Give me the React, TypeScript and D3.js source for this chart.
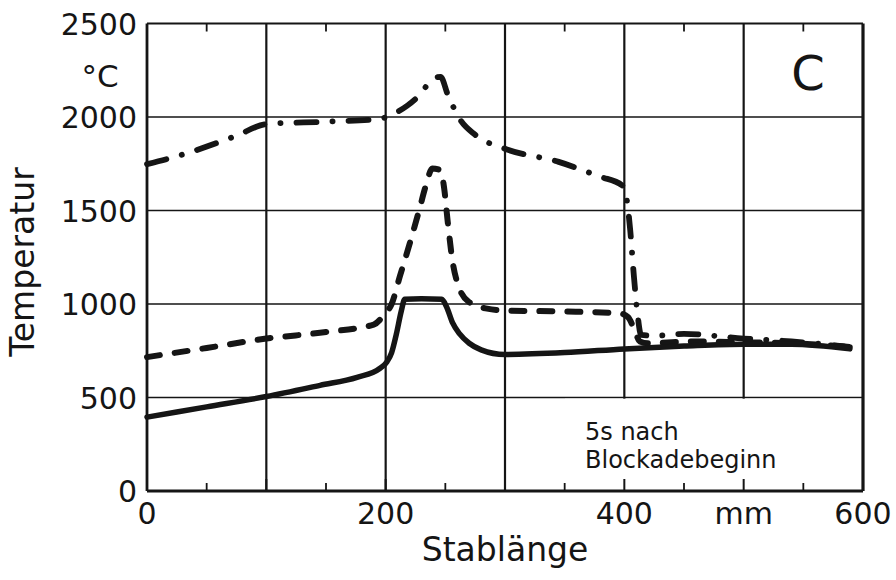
import React from "react";
import * as d3 from "d3";

const xTicks = [0, 100, 200, 300, 400, 500, 600];
const xTickLabels = ["0", "", "200", "", "400", "mm", "600"];
const yTicks = [0, 500, 1000, 1500, 2000, 2500];
const yTickLabels = ["0", "500", "1000", "1500", "2000", "2500"];

const solidX = [0, 50, 100, 145, 176, 195, 201, 205, 209, 213, 216, 230, 247, 251, 256, 262, 270, 280, 300, 350, 400, 450, 500, 540, 589];
const solidT = [395, 450, 505, 565, 608, 655, 690, 740, 840, 960, 1025, 1028, 1025, 985, 900, 840, 790, 755, 730, 740, 760, 775, 785, 785, 760];

const dashX = [0, 50, 100, 150, 190, 199, 205, 212, 220, 228, 234, 239, 246, 249, 252, 256, 262, 270, 285, 300, 350, 396, 403, 408, 413, 420, 460, 500, 540, 589];
const dashT = [716, 765, 815, 850, 890, 945, 1000, 1150, 1320, 1500, 1640, 1725, 1715, 1620, 1440, 1230, 1080, 1010, 975, 965, 960, 950, 930, 870, 800, 790, 800, 795, 790, 770];

const ddX = [0, 25, 75, 100, 150, 195, 206, 218, 228, 239, 246, 252, 257, 262, 275, 300, 345, 380, 398, 402, 405, 408, 411, 414, 425, 450, 500, 540, 589];
const ddT = [1748, 1790, 1900, 1962, 1975, 1990, 2015, 2060, 2115, 2200, 2215, 2120, 2050, 1990, 1905, 1830, 1760, 1680, 1635, 1560, 1390, 1150, 950, 835, 830, 840, 815, 800, 770];

const W = 896;
const H = 580;
const L = 147, R = 863, T = 23.5, B = 491;

export default function App() {
  const x = d3.scaleLinear().domain([0, 600]).range([L, R]);
  const y = d3.scaleLinear().domain([0, 2500]).range([B, T]);
  const line = d3
    .line<[number, number]>()
    .x((d) => x(d[0]))
    .y((d) => y(d[1]))
    .curve(d3.curveMonotoneX);
  const solid = line(solidX.map((v, i) => [v, solidT[i]]) as [number, number][]) || "";
  const dashed = line(dashX.map((v, i) => [v, dashT[i]]) as [number, number][]) || "";
  const dd = line(ddX.map((v, i) => [v, ddT[i]]) as [number, number][]) || "";
  const minor = d3.range(50, 600, 100);
  const ink = "#151515";
  const font = "DejaVu Sans, sans-serif";

  return (
    <div style={{ position: "absolute", left: 0, top: 0 }}>
      <svg width={W} height={H} viewBox={`0 0 ${W} ${H}`} style={{ display: "block", background: "#fff" }}>
        <rect x={0} y={0} width={W} height={H} fill="#fff" />
        {yTicks.slice(1, -1).map((t) => (
          <line key={"h" + t} x1={L} x2={R} y1={y(t)} y2={y(t)} stroke={ink} strokeWidth={1.5} />
        ))}
        {xTicks.slice(1, -1).map((t) => (
          <line key={"v" + t} x1={x(t)} x2={x(t)} y1={T} y2={B} stroke={ink} strokeWidth={2.2} />
        ))}
        <rect x={565} y={y(500) + 1.2} width={R - 566} height={B - y(500) - 2.2} fill="#fff" />
        {xTicks.slice(1, -1).map((t) => (
          <line key={"bt" + t} x1={x(t)} x2={x(t)} y1={B} y2={B - 12} stroke={ink} strokeWidth={2} />
        ))}
        {minor.map((t) => (
          <g key={"m" + t}>
            <line x1={x(t)} x2={x(t)} y1={B} y2={B - 8} stroke={ink} strokeWidth={1.8} />
            <line x1={x(t)} x2={x(t)} y1={T} y2={T + 8} stroke={ink} strokeWidth={1.8} />
          </g>
        ))}
        <line x1={L} x2={L} y1={T} y2={B} stroke={ink} strokeWidth={2.8} />
        <line x1={R} x2={R} y1={T} y2={B} stroke={ink} strokeWidth={3.2} />
        <line x1={L} x2={R} y1={T} y2={T} stroke={ink} strokeWidth={2.2} />
        <line x1={L} x2={R} y1={B} y2={B} stroke={ink} strokeWidth={2.8} />

        <path d={dd} fill="none" stroke={ink} strokeWidth={5.8} strokeLinecap="round" strokeLinejoin="round" strokeDasharray="20 16 0.1 16" />
        <path d={dashed} fill="none" stroke={ink} strokeWidth={6} strokeLinecap="round" strokeLinejoin="round" strokeDasharray="13 15" />
        <path d={solid} fill="none" stroke={ink} strokeWidth={5.5} strokeLinecap="round" strokeLinejoin="round" />

        {yTicks.map((t, i) => (
          <text key={"yl" + t} x={137} y={y(t) + 11} textAnchor="end" fontFamily={font} fontSize={30} fill={ink}>
            {yTickLabels[i]}
          </text>
        ))}
        <text x={100} y={87} textAnchor="middle" fontFamily={font} fontSize={31} fill={ink}>°C</text>
        {xTicks.map((t, i) => (
          <text key={"xl" + t} x={x(t)} y={524} textAnchor="middle" fontFamily={font} fontSize={30} fill={ink}>
            {xTickLabels[i]}
          </text>
        ))}
        <text x={505} y={561} textAnchor="middle" fontFamily={font} fontSize={33} fill={ink}>Stablänge</text>
        <text transform="translate(34,262) rotate(-90)" textAnchor="middle" fontFamily={font} fontSize={33} fill={ink}>Temperatur</text>
        <text x={808} y={90} textAnchor="middle" fontFamily={font} fontSize={48} fill={ink}>C</text>
        <text x={585} y={440} fontFamily={font} fontSize={24} fill={ink}>5s  nach</text>
        <text x={585} y={468} fontFamily={font} fontSize={24} fill={ink}>Blockadebeginn</text>
      </svg>
    </div>
  );
}
